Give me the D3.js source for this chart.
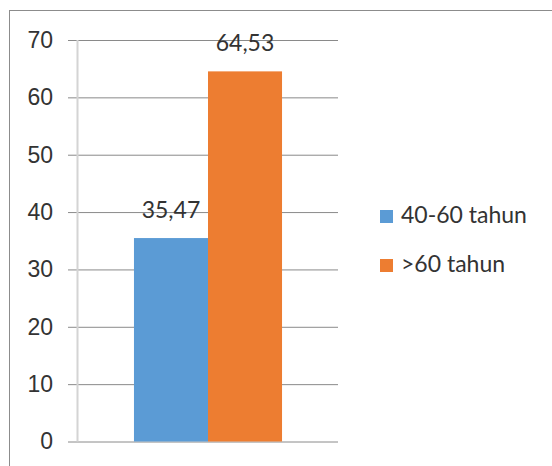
<!DOCTYPE html>
<html>
<head>
    <meta charset="utf-8"/>
    <script src="https://d3js.org/d3.v7.min.js"></script>
</head>
<style>
    body {
        margin: 0;
        background: #fff;
    }
    svg {
        font-family: Lato, "Open Sans", sans-serif;
    }
</style>
<body>
<svg class="main" width="552" height="466"></svg>
</body>
<script>
    // data
    var categories = ["Usia"]
    var seriesNames = ["40-60 tahun", ">60 tahun"]
    var seriesValues = [35.47, 64.53]
    var seriesColors = ["#5b9bd5", "#ed7d31"]
    var yTicks = [0, 10, 20, 30, 40, 50, 60, 70]

    var svg = d3.select("svg.main")

    // outer chart frame (only top/left visible in the picture)
    svg.append("rect")
        .attr("x", 9.5)
        .attr("y", 10.5)
        .attr("width", 600)
        .attr("height", 500)
        .attr("fill", "none")
        .attr("stroke", "#8c8c8c")
        .attr("stroke-width", 1)

    var yScale = d3.scaleLinear()
        .domain([0, 70])
        .range([441.5, 40])

    var x0 = d3.scaleBand()
        .domain(categories)
        .range([78, 338])
        .paddingInner(0)
        .paddingOuter(0.378)

    var x1 = d3.scaleBand()
        .domain(seriesNames)
        .range([0, x0.bandwidth()])

    // gridlines + tick labels
    var yAxis = d3.axisLeft(yScale)
        .tickValues(yTicks)
        .tickSize(-270)
        .tickPadding(15)
        .tickFormat(d3.format("d"))

    var gy = svg.append("g")
        .attr("transform", "translate(68,0)")
        .call(yAxis)
    gy.select(".domain").remove()
    gy.selectAll(".tick line")
        .attr("stroke", "#8a8a8a")
        .attr("stroke-width", 1)
    gy.selectAll(".tick text")
        .attr("x", -15)
        .attr("fill", "#333")
        .style("font-size", "23px")

    // the vertical axis line
    svg.append("line")
        .attr("x1", 77.5)
        .attr("x2", 77.5)
        .attr("y1", yScale(70))
        .attr("y2", yScale(0))
        .attr("stroke", "#d4d4d4")
        .attr("stroke-width", 2)

    var group = svg.selectAll("g.cat")
        .data(categories)
        .enter()
        .append("g")
        .attr("class", "cat")
        .attr("transform", function (d) {
            return "translate(" + x0(d) + ",0)"
        })

    group.selectAll("rect")
        .data(seriesValues)
        .enter()
        .append("rect")
        .attr("x", function (d, i) {
            return x1(seriesNames[i])
        })
        .attr("width", x1.bandwidth())
        .attr("y", function (d) {
            return yScale(d)
        })
        .attr("height", function (d) {
            return yScale(0) - yScale(d)
        })
        .attr("fill", function (d, i) {
            return seriesColors[i]
        })

    // value labels
    group.selectAll("text.val")
        .data(seriesValues)
        .enter()
        .append("text")
        .attr("class", "val")
        .attr("x", function (d, i) {
            return x1(seriesNames[i]) + x1.bandwidth() / 2
        })
        .attr("y", function (d) {
            return yScale(d) - 20
        })
        .attr("text-anchor", "middle")
        .attr("fill", "#333")
        .style("font-size", "23px")
        .text(function (d) {
            return d3.format(".2f")(d).replace(".", ",")
        })

    // legend
    var legend = svg.selectAll("g.legend")
        .data(seriesNames)
        .enter()
        .append("g")
        .attr("class", "legend")
        .attr("transform", function (d, i) {
            return "translate(380," + (210 + i * 49) + ")"
        })
    legend.append("rect")
        .attr("width", 13)
        .attr("height", 13)
        .attr("fill", function (d, i) {
            return seriesColors[i]
        })
    legend.append("text")
        .attr("x", 21)
        .attr("y", 13)
        .attr("fill", "#333")
        .style("font-size", "23px")
        .text(function (d) {
            return d
        })
</script>
</html>
